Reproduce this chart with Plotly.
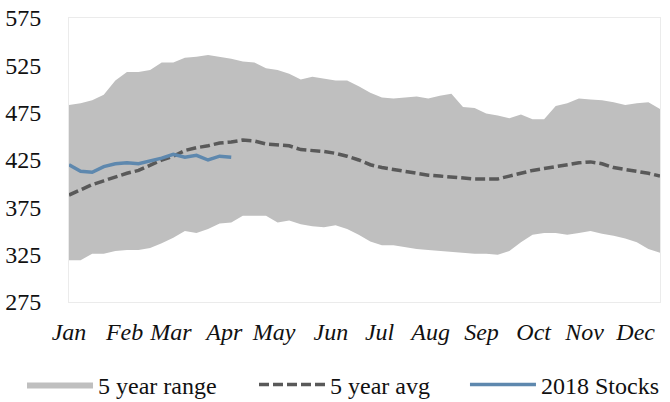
import plotly.graph_objects as go

weeks = list(range(52))

range_upper = [483, 485, 488, 494, 509, 518, 518, 520, 528, 528, 533, 534, 536, 534, 532, 529, 528,
               522, 520, 516, 510, 513, 511, 509, 509, 503, 496, 491, 490, 491, 492, 490, 493, 495,
               481, 480, 474, 472, 469, 473, 468, 468, 482, 485, 490, 489, 488, 486, 483, 485, 486, 479]

range_lower = [319, 319, 326, 326, 329, 330, 330, 332, 337, 343, 350, 348, 352, 358, 359, 366, 366,
               366, 359, 361, 357, 355, 354, 356, 352, 346, 339, 335, 335, 333, 331, 330, 329, 328,
               327, 326, 326, 325, 329, 338, 346, 348, 348, 346, 348, 350, 347, 345, 342, 338, 331, 327]

avg_5yr = [388, 393, 399, 403, 407, 411, 414, 420, 425, 429, 435, 438, 440, 443, 444, 446, 445,
           442, 441, 440, 436, 435, 434, 432, 429, 425, 420, 417, 415, 413, 411, 409, 408, 407,
           406, 405, 405, 405, 408, 411, 414, 416, 418, 420, 422, 423, 421, 417, 415, 413, 411, 408]

stocks_2018 = [420, 413, 412, 418, 421, 422, 421, 424, 427, 431, 428, 430, 425, 429, 428]

month_labels = ["Jan", "Feb", "Mar", "Apr", "May", "Jun", "Jul", "Aug", "Sep", "Oct", "Nov", "Dec"]
month_pos = [0, 4.8, 8.8, 13.4, 17.7, 22.6, 26.8, 31.2, 35.6, 40.1, 44.5, 48.9]

y_ticks = [275, 325, 375, 425, 475, 525, 575]

FONT = "Liberation Serif"
TXT = "#111111"

fig = go.Figure()
fig.add_trace(go.Scatter(x=weeks, y=range_lower, mode="lines", line=dict(width=0),
                         showlegend=False, hoverinfo="skip"))
fig.add_trace(go.Scatter(x=weeks, y=range_upper, mode="lines", line=dict(width=0),
                         fill="tonexty", fillcolor="#BFBFBF", name="5 year range",
                         legend="legend"))
fig.add_trace(go.Scatter(x=weeks, y=avg_5yr, mode="lines", name="5 year avg",
                         line=dict(color="#595959", width=3.5, dash="10px,4px"),
                         legend="legend2"))
fig.add_trace(go.Scatter(x=weeks[:len(stocks_2018)], y=stocks_2018, mode="lines", name="2018 Stocks",
                         line=dict(color="#5E88AE", width=3.5), legend="legend3"))

leg_common = dict(orientation="h", y=-0.292, yanchor="middle", xanchor="left",
                  font=dict(family=FONT, size=24, color=TXT), itemwidth=66,
                  bgcolor="rgba(0,0,0,0)")

fig.update_layout(
    width=670, height=402,
    margin=dict(l=69, r=10, t=18, b=100, autoexpand=False),
    paper_bgcolor="white", plot_bgcolor="white",
    font=dict(family=FONT, size=24, color=TXT),
    showlegend=True,
    legend=dict(x=-0.0795, **leg_common),
    legend2=dict(x=0.313, **leg_common),
    legend3=dict(x=0.670, **leg_common),
)
fig.update_xaxes(range=[0, 51], tickvals=month_pos, ticktext=month_labels,
                 tickfont=dict(family=FONT, size=24, style="italic", color=TXT),
                 showgrid=False, zeroline=False, showline=True, linecolor="#EBEBEB",
                 linewidth=1, mirror=True, ticks="", ticklabelstandoff=8, automargin=False)
fig.update_yaxes(range=[275, 575], tickvals=y_ticks, showgrid=False, zeroline=False,
                 showline=True, linecolor="#EBEBEB", linewidth=1, mirror=True,
                 ticks="", ticklabelstandoff=22, automargin=False)

fig.write_html("out.html", config={"displayModeBar": False},
               post_script="document.body.style.margin='0';document.body.style.overflow='hidden';")
